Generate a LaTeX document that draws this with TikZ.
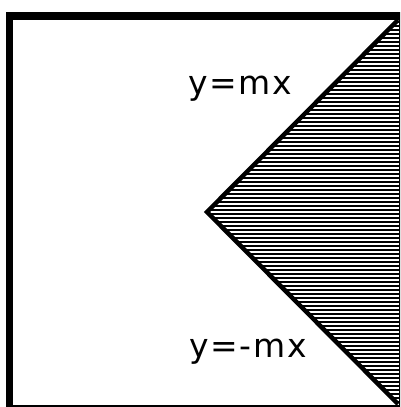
\documentclass[tikz,border=0pt]{standalone}
\usepackage{fontspec}
\setmainfont{DejaVu Sans}
\begin{document}
\begin{tikzpicture}[x=1pt,y=1pt,
  frame/.style={line width=7.5pt,draw=black},
  vline/.style={line width=4.5pt,draw=black,line join=miter},
  hatchline/.style={line width=2pt,draw=black},
  lbl/.style={font=\fontsize{33}{36}\selectfont,anchor=base,inner sep=0pt}]
\useasboundingbox (0,0) rectangle (400,407);
\clip (0,0) rectangle (400,407);
\fill[white] (0,0) rectangle (400,407);
\coordinate (top) at (398,387);
\coordinate (tip) at (207,195);
\coordinate (bot) at (398,3);
% hatched region
\begin{scope}
  \clip (top) -- (tip) -- (bot) -- (400,3) -- (400,387) -- cycle;
  \foreach \y in {1,5,...,393} {\draw[hatchline] (200,\y) -- (400,\y);}
\end{scope}
% frame
\draw[frame] (9.5,391) rectangle (402.3,-1.3);
% V lines
\draw[vline] (top) -- (tip) -- (bot);
\node[lbl] (l1) at (240,312) {y\kern1.7pt=\kern1.7pt m\kern1.7pt x};
\node[lbl] (l2) at (248,49) {y\kern1.7pt=\kern1.7pt-\kern1.7pt m\kern1.7pt x};
\end{tikzpicture}
\end{document}
